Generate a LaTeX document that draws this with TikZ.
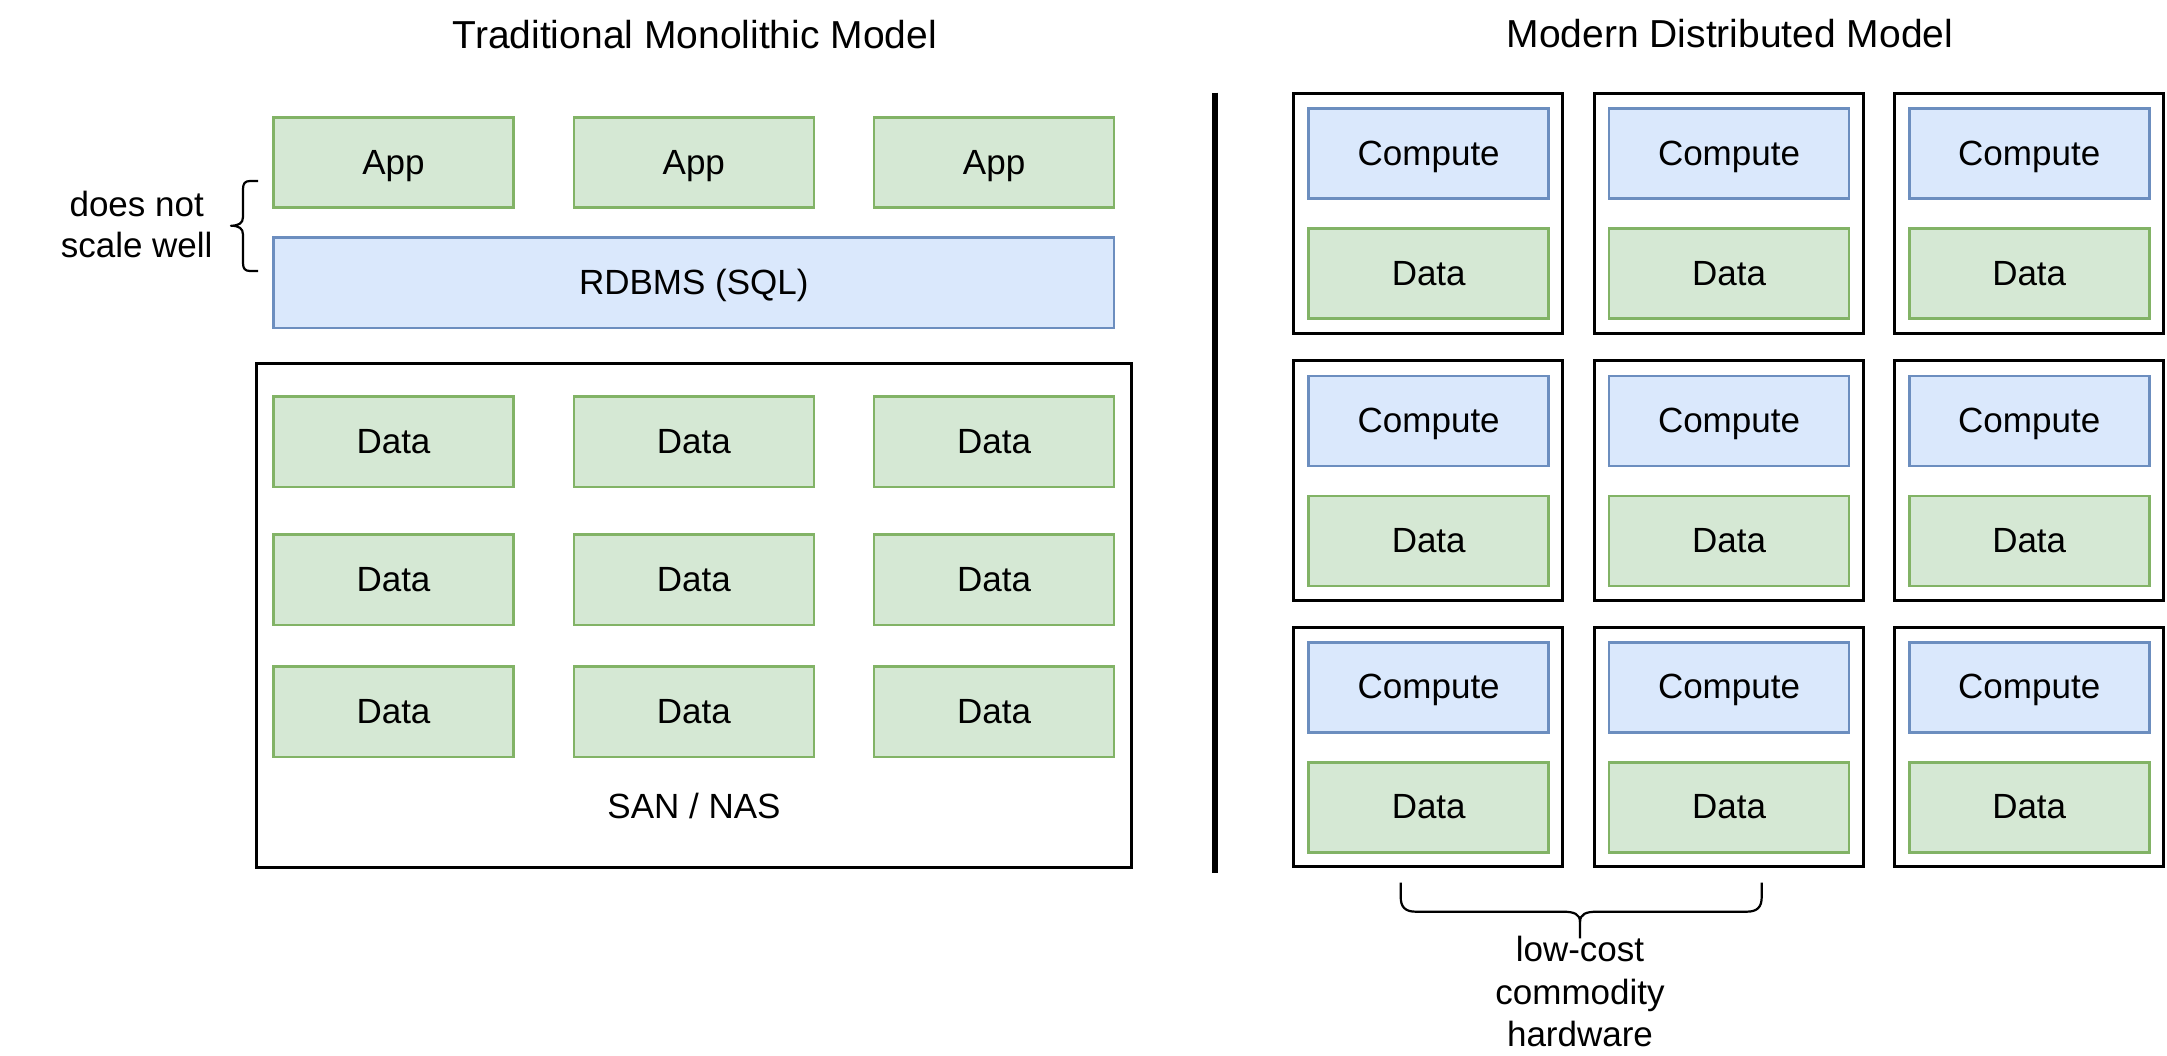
\documentclass[tikz,border=0pt]{standalone}
\usepackage{fontspec}
\setmainfont{Liberation Sans}
\definecolor{gfill}{HTML}{D5E8D4}
\definecolor{gline}{HTML}{82B366}
\definecolor{bfill}{HTML}{DAE8FC}
\definecolor{bline}{HTML}{6C8EBF}
\begin{document}
\begin{tikzpicture}[x=1pt,y=-1pt,
  txt/.style={font=\fontsize{35}{42}\selectfont},
  boxbase/.style={txt, rectangle, inner sep=0pt, outer sep=0pt, anchor=north west, line width=2.6pt, text height=23pt, text depth=0pt, minimum height=90pt},
  gbox/.style={boxbase, draw=gline, fill=gfill, minimum width=240pt},
  bbox/.style={boxbase, draw=bline, fill=bfill, minimum width=240pt},
  frame/.style={rectangle, draw=black, line width=3pt, inner sep=0pt, outer sep=0pt, anchor=north west},
  lbl/.style={txt, anchor=base, inner sep=0pt},
  ttl/.style={font=\fontsize{39}{47}\selectfont, anchor=base, inner sep=0pt},
  brace/.style={draw=black, line width=2.2pt, line join=round, line cap=butt}
]
\useasboundingbox[fill=white] (0,0) rectangle (2167,1055);

% titles
\node[ttl] (t1) at (694.8,48.2) {Traditional Monolithic Model};
\node[ttl] (t2) at (1730,47.1) {Modern Distributed Model};

% left: apps and RDBMS
\foreach \c/\x in {1/273.5,2/573.8,3/874.1} {
  \node[gbox] (app\c) at (\x,117.5) {App};
}
\node[bbox, minimum width=840.6pt, minimum height=90.5pt] (rdbms) at (273.5,237.5) {RDBMS (SQL)};

% does not scale well
\node[lbl] (dns1) at (136.7,216) {does not};
\node[lbl] (dns2) at (136.7,257.3) {scale well};
\draw[brace] (258,181) -- (250,181) .. controls (245,181) and (243,183.5) .. (243,189) -- (243,217)
  .. controls (243,223) and (239,225.7) .. (231,225.7)
  .. controls (239,225.7) and (243,228.5) .. (243,234.5) -- (243,263)
  .. controls (243,268.5) and (245,271) .. (250,271) -- (258,271);

% SAN / NAS
\node[frame, minimum width=875.5pt, minimum height=504pt] (san) at (256,363.5) {};
\foreach \r/\y in {1/396.6,2/534.3,3/666.6} {
  \foreach \c/\x in {1/273.5,2/573.8,3/874.1} {
    \node[gbox, minimum height=90.5pt] (d\r\c) at (\x,\y) {Data};
  }
}
\node[lbl] (sanlbl) at (694,818.3) {SAN / NAS};

% separator
\coordinate (sepT) at (1215,92.7);
\coordinate (sepB) at (1215,872.5);
\draw[line width=5.5pt] (sepT) -- (sepB);

% right: distributed nodes
\foreach \c/\x in {1/1293.7,2/1594,3/1894.2} {
  \foreach \r/\y in {1/93.5,2/360.8,3/627.3} {
    \node[frame, minimum width=269pt, minimum height=239.6pt] (srv\r\c) at (\x,\y) {};
    \node[bbox] (cmp\r\c) at (\x+15,\y+15) {Compute};
    \node[gbox] (dat\r\c) at (\x+15,\y+135) {Data};
  }
}

% bottom brace
\draw[brace] (1400.7,882.7) -- (1400.7,897) .. controls (1400.7,907) and (1405,911.7) .. (1416,911.7)
  -- (1563,911.7) .. controls (1574,911.7) and (1580,914) .. (1580,922) -- (1580,938.3);
\draw[brace] (1761.7,882.7) -- (1761.7,897) .. controls (1761.7,907) and (1757.4,911.7) .. (1746.4,911.7)
  -- (1597,911.7) .. controls (1586,911.7) and (1580,914) .. (1580,922);

\node[lbl] (hw1) at (1580,961.7) {low-cost};
\node[lbl] (hw2) at (1580,1004.2) {commodity};
\node[lbl] (hw3) at (1580,1046.7) {hardware};
\end{tikzpicture}
\end{document}
